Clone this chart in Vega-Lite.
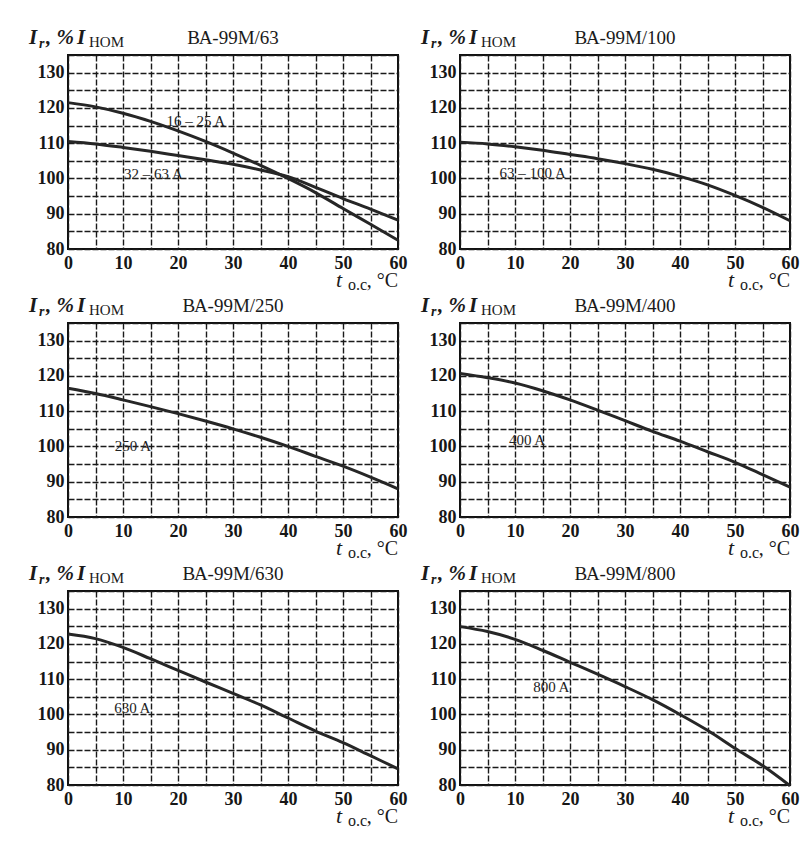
{
  "$schema": "https://vega.github.io/schema/vega-lite/v6.json",
  "background": "white",
  "padding": {"left": 28, "top": 26, "right": 10, "bottom": 10},
  "data": {"values": [
    {"p":1,"kind":"title","name":"ВА-99М/63"},
    {"p":2,"kind":"title","name":"ВА-99М/100"},
    {"p":3,"kind":"title","name":"ВА-99М/250"},
    {"p":4,"kind":"title","name":"ВА-99М/400"},
    {"p":5,"kind":"title","name":"ВА-99М/630"},
    {"p":6,"kind":"title","name":"ВА-99М/800"},
    {"p":1,"kind":"label","t":17.9,"I":116.4,"label":"16 – 25 A"},
    {"p":1,"kind":"label","t":10.2,"I":101.2,"label":"32 – 63 A"},
    {"p":2,"kind":"label","t":7.2,"I":101.5,"label":"63 – 100 A"},
    {"p":3,"kind":"label","t":8.5,"I":100.1,"label":"250 A"},
    {"p":4,"kind":"label","t":8.9,"I":101.9,"label":"400 A"},
    {"p":5,"kind":"label","t":8.4,"I":101.8,"label":"630 A"},
    {"p":6,"kind":"label","t":13.3,"I":107.9,"label":"800 A"},
    {"p":1,"kind":"curve","series":"16-25","t":0,"I":121.5},
    {"p":1,"kind":"curve","series":"16-25","t":5,"I":120.3},
    {"p":1,"kind":"curve","series":"16-25","t":10,"I":118.5},
    {"p":1,"kind":"curve","series":"16-25","t":15,"I":116.2},
    {"p":1,"kind":"curve","series":"16-25","t":20,"I":113.5},
    {"p":1,"kind":"curve","series":"16-25","t":25,"I":110.5},
    {"p":1,"kind":"curve","series":"16-25","t":30,"I":107.2},
    {"p":1,"kind":"curve","series":"16-25","t":35,"I":103.7},
    {"p":1,"kind":"curve","series":"16-25","t":40,"I":100},
    {"p":1,"kind":"curve","series":"16-25","t":45,"I":96},
    {"p":1,"kind":"curve","series":"16-25","t":50,"I":91.5},
    {"p":1,"kind":"curve","series":"16-25","t":55,"I":87},
    {"p":1,"kind":"curve","series":"16-25","t":60,"I":82.5},
    {"p":1,"kind":"curve","series":"32-63","t":0,"I":110.5},
    {"p":1,"kind":"curve","series":"32-63","t":5,"I":109.8},
    {"p":1,"kind":"curve","series":"32-63","t":10,"I":108.8},
    {"p":1,"kind":"curve","series":"32-63","t":15,"I":107.7},
    {"p":1,"kind":"curve","series":"32-63","t":20,"I":106.5},
    {"p":1,"kind":"curve","series":"32-63","t":25,"I":105.3},
    {"p":1,"kind":"curve","series":"32-63","t":30,"I":104},
    {"p":1,"kind":"curve","series":"32-63","t":35,"I":102.4},
    {"p":1,"kind":"curve","series":"32-63","t":40,"I":100.5},
    {"p":1,"kind":"curve","series":"32-63","t":45,"I":97.5},
    {"p":1,"kind":"curve","series":"32-63","t":50,"I":94.3},
    {"p":1,"kind":"curve","series":"32-63","t":55,"I":91.3},
    {"p":1,"kind":"curve","series":"32-63","t":60,"I":88.2},
    {"p":2,"kind":"curve","series":"63-100","t":0,"I":110.3},
    {"p":2,"kind":"curve","series":"63-100","t":5,"I":109.8},
    {"p":2,"kind":"curve","series":"63-100","t":10,"I":109},
    {"p":2,"kind":"curve","series":"63-100","t":15,"I":108},
    {"p":2,"kind":"curve","series":"63-100","t":20,"I":106.8},
    {"p":2,"kind":"curve","series":"63-100","t":25,"I":105.6},
    {"p":2,"kind":"curve","series":"63-100","t":30,"I":104.2},
    {"p":2,"kind":"curve","series":"63-100","t":35,"I":102.6},
    {"p":2,"kind":"curve","series":"63-100","t":40,"I":100.6},
    {"p":2,"kind":"curve","series":"63-100","t":45,"I":98.2},
    {"p":2,"kind":"curve","series":"63-100","t":50,"I":95.2},
    {"p":2,"kind":"curve","series":"63-100","t":55,"I":91.8},
    {"p":2,"kind":"curve","series":"63-100","t":60,"I":88},
    {"p":3,"kind":"curve","series":"250","t":0,"I":116.5},
    {"p":3,"kind":"curve","series":"250","t":5,"I":115},
    {"p":3,"kind":"curve","series":"250","t":10,"I":113.2},
    {"p":3,"kind":"curve","series":"250","t":15,"I":111.3},
    {"p":3,"kind":"curve","series":"250","t":20,"I":109.3},
    {"p":3,"kind":"curve","series":"250","t":25,"I":107.2},
    {"p":3,"kind":"curve","series":"250","t":30,"I":105},
    {"p":3,"kind":"curve","series":"250","t":35,"I":102.6},
    {"p":3,"kind":"curve","series":"250","t":40,"I":100},
    {"p":3,"kind":"curve","series":"250","t":45,"I":97.2},
    {"p":3,"kind":"curve","series":"250","t":50,"I":94.4},
    {"p":3,"kind":"curve","series":"250","t":55,"I":91.3},
    {"p":3,"kind":"curve","series":"250","t":60,"I":88},
    {"p":4,"kind":"curve","series":"400","t":0,"I":120.7},
    {"p":4,"kind":"curve","series":"400","t":5,"I":119.5},
    {"p":4,"kind":"curve","series":"400","t":10,"I":118},
    {"p":4,"kind":"curve","series":"400","t":15,"I":115.8},
    {"p":4,"kind":"curve","series":"400","t":20,"I":113.2},
    {"p":4,"kind":"curve","series":"400","t":25,"I":110.3},
    {"p":4,"kind":"curve","series":"400","t":30,"I":107.3},
    {"p":4,"kind":"curve","series":"400","t":35,"I":104.3},
    {"p":4,"kind":"curve","series":"400","t":40,"I":101.5},
    {"p":4,"kind":"curve","series":"400","t":45,"I":98.5},
    {"p":4,"kind":"curve","series":"400","t":50,"I":95.5},
    {"p":4,"kind":"curve","series":"400","t":55,"I":92},
    {"p":4,"kind":"curve","series":"400","t":60,"I":88.5},
    {"p":5,"kind":"curve","series":"630","t":0,"I":122.8},
    {"p":5,"kind":"curve","series":"630","t":5,"I":121.5},
    {"p":5,"kind":"curve","series":"630","t":10,"I":119},
    {"p":5,"kind":"curve","series":"630","t":15,"I":115.8},
    {"p":5,"kind":"curve","series":"630","t":20,"I":112.5},
    {"p":5,"kind":"curve","series":"630","t":25,"I":109.2},
    {"p":5,"kind":"curve","series":"630","t":30,"I":106},
    {"p":5,"kind":"curve","series":"630","t":35,"I":102.7},
    {"p":5,"kind":"curve","series":"630","t":40,"I":99},
    {"p":5,"kind":"curve","series":"630","t":45,"I":95.3},
    {"p":5,"kind":"curve","series":"630","t":50,"I":92},
    {"p":5,"kind":"curve","series":"630","t":55,"I":88.3},
    {"p":5,"kind":"curve","series":"630","t":60,"I":84.6},
    {"p":6,"kind":"curve","series":"800","t":0,"I":124.9},
    {"p":6,"kind":"curve","series":"800","t":5,"I":123.5},
    {"p":6,"kind":"curve","series":"800","t":10,"I":121.3},
    {"p":6,"kind":"curve","series":"800","t":15,"I":118.2},
    {"p":6,"kind":"curve","series":"800","t":20,"I":114.8},
    {"p":6,"kind":"curve","series":"800","t":25,"I":111.4},
    {"p":6,"kind":"curve","series":"800","t":30,"I":107.9},
    {"p":6,"kind":"curve","series":"800","t":35,"I":104.2},
    {"p":6,"kind":"curve","series":"800","t":40,"I":100},
    {"p":6,"kind":"curve","series":"800","t":45,"I":95.5},
    {"p":6,"kind":"curve","series":"800","t":50,"I":90.4},
    {"p":6,"kind":"curve","series":"800","t":55,"I":85.5},
    {"p":6,"kind":"curve","series":"800","t":60,"I":79.8}
  ]},
  "columns": 2,
  "bounds": "flush",
  "spacing": {"row": 74, "column": 62},
  "concat": [
    {"transform": [{"filter": "datum.p == 1"}], "width": 330, "height": 194,
     "resolve": {"axis": {"x": "independent", "y": "independent"}},
     "layer": [
      {"transform": [{"filter": "datum.kind == 'curve'"}], "mark": {"type": "line", "interpolate": "monotone", "strokeWidth": 3, "color": "#262626"},
       "encoding": {
         "x": {"field": "t", "type": "quantitative", "scale": {"domain": [0, 60], "nice": false, "zero": false},
               "axis": {"orient": "bottom", "title": null, "values": [0,5,10,15,20,25,30,35,40,45,50,55,60], "labelExpr": "datum.value % 10 == 0 ? datum.label : ''", "labelFlush": false, "labelOverlap": false, "labelPadding": 5}},
         "y": {"field": "I", "type": "quantitative", "scale": {"domain": [80, 135], "nice": false, "zero": false},
               "axis": {"orient": "left", "title": null, "values": [80,85,90,95,100,105,110,115,120,125,130,135], "labelExpr": "datum.value % 10 == 0 && datum.value <= 130 ? datum.label : ''", "labelOverlap": false, "labelPadding": 4}},
         "detail": {"field": "series"}}},
      {"transform": [{"filter": "datum.kind == 'label'"}], "mark": {"type": "text", "align": "left", "baseline": "middle", "fontSize": 15, "color": "#222"},
       "encoding": {"x": {"field": "t", "type": "quantitative", "axis": null}, "y": {"field": "I", "type": "quantitative", "axis": null}, "text": {"field": "label"}}},
      {"transform": [{"filter": "datum.kind == 'title'"}], "mark": {"type": "text", "align": "center", "baseline": "alphabetic", "fontSize": 19, "dy": -11, "color": "#1a1a1a"},
       "encoding": {"x": {"datum": 30, "axis": null}, "y": {"datum": 135, "axis": null}, "text": {"field": "name"}}},
      {"transform": [{"filter": "datum.kind == 'title'"}], "mark": {"type": "text", "align": "left", "baseline": "alphabetic", "fontSize": 21, "fontStyle": "italic", "fontWeight": "bold", "dx": -39, "dy": -11, "color": "#1a1a1a", "text": "I"},
       "encoding": {"x": {"datum": 0, "axis": null}, "y": {"datum": 135, "axis": null}}},
      {"transform": [{"filter": "datum.kind == 'title'"}], "mark": {"type": "text", "align": "left", "baseline": "alphabetic", "fontSize": 14, "fontStyle": "italic", "fontWeight": "bold", "dx": -29, "dy": -7, "color": "#1a1a1a", "text": "r"},
       "encoding": {"x": {"datum": 0, "axis": null}, "y": {"datum": 135, "axis": null}}},
      {"transform": [{"filter": "datum.kind == 'title'"}], "mark": {"type": "text", "align": "left", "baseline": "alphabetic", "fontSize": 21, "fontStyle": "italic", "fontWeight": "bold", "dx": -22, "dy": -11, "color": "#1a1a1a", "text": ", %"},
       "encoding": {"x": {"datum": 0, "axis": null}, "y": {"datum": 135, "axis": null}}},
      {"transform": [{"filter": "datum.kind == 'title'"}], "mark": {"type": "text", "align": "left", "baseline": "alphabetic", "fontSize": 21, "fontStyle": "italic", "fontWeight": "bold", "dx": 9, "dy": -11, "color": "#1a1a1a", "text": "I"},
       "encoding": {"x": {"datum": 0, "axis": null}, "y": {"datum": 135, "axis": null}}},
      {"transform": [{"filter": "datum.kind == 'title'"}], "mark": {"type": "text", "align": "left", "baseline": "alphabetic", "fontSize": 15, "dx": 21, "dy": -8, "color": "#1a1a1a", "text": "НОМ"},
       "encoding": {"x": {"datum": 0, "axis": null}, "y": {"datum": 135, "axis": null}}},
      {"transform": [{"filter": "datum.kind == 'title'"}], "mark": {"type": "text", "align": "right", "baseline": "alphabetic", "fontSize": 20, "dy": 38, "color": "#1a1a1a", "text": ", °C"},
       "encoding": {"x": {"datum": 60, "axis": null}, "y": {"datum": 80, "axis": null}}},
      {"transform": [{"filter": "datum.kind == 'title'"}], "mark": {"type": "text", "align": "right", "baseline": "alphabetic", "fontSize": 16, "dx": -31, "dy": 41, "color": "#1a1a1a", "text": "о.с"},
       "encoding": {"x": {"datum": 60, "axis": null}, "y": {"datum": 80, "axis": null}}},
      {"transform": [{"filter": "datum.kind == 'title'"}], "mark": {"type": "text", "align": "right", "baseline": "alphabetic", "fontSize": 22, "fontStyle": "italic", "dx": -56, "dy": 38, "color": "#1a1a1a", "text": "t"},
       "encoding": {"x": {"datum": 60, "axis": null}, "y": {"datum": 80, "axis": null}}}
    ]},
    {"transform": [{"filter": "datum.p == 2"}], "width": 330, "height": 194,
     "resolve": {"axis": {"x": "independent", "y": "independent"}},
     "layer": [
      {"transform": [{"filter": "datum.kind == 'curve'"}], "mark": {"type": "line", "interpolate": "monotone", "strokeWidth": 3, "color": "#262626"},
       "encoding": {
         "x": {"field": "t", "type": "quantitative", "scale": {"domain": [0, 60], "nice": false, "zero": false},
               "axis": {"orient": "bottom", "title": null, "values": [0,5,10,15,20,25,30,35,40,45,50,55,60], "labelExpr": "datum.value % 10 == 0 ? datum.label : ''", "labelFlush": false, "labelOverlap": false, "labelPadding": 5}},
         "y": {"field": "I", "type": "quantitative", "scale": {"domain": [80, 135], "nice": false, "zero": false},
               "axis": {"orient": "left", "title": null, "values": [80,85,90,95,100,105,110,115,120,125,130,135], "labelExpr": "datum.value % 10 == 0 && datum.value <= 130 ? datum.label : ''", "labelOverlap": false, "labelPadding": 4}},
         "detail": {"field": "series"}}},
      {"transform": [{"filter": "datum.kind == 'label'"}], "mark": {"type": "text", "align": "left", "baseline": "middle", "fontSize": 15, "color": "#222"},
       "encoding": {"x": {"field": "t", "type": "quantitative", "axis": null}, "y": {"field": "I", "type": "quantitative", "axis": null}, "text": {"field": "label"}}},
      {"transform": [{"filter": "datum.kind == 'title'"}], "mark": {"type": "text", "align": "center", "baseline": "alphabetic", "fontSize": 19, "dy": -11, "color": "#1a1a1a"},
       "encoding": {"x": {"datum": 30, "axis": null}, "y": {"datum": 135, "axis": null}, "text": {"field": "name"}}},
      {"transform": [{"filter": "datum.kind == 'title'"}], "mark": {"type": "text", "align": "left", "baseline": "alphabetic", "fontSize": 21, "fontStyle": "italic", "fontWeight": "bold", "dx": -39, "dy": -11, "color": "#1a1a1a", "text": "I"},
       "encoding": {"x": {"datum": 0, "axis": null}, "y": {"datum": 135, "axis": null}}},
      {"transform": [{"filter": "datum.kind == 'title'"}], "mark": {"type": "text", "align": "left", "baseline": "alphabetic", "fontSize": 14, "fontStyle": "italic", "fontWeight": "bold", "dx": -29, "dy": -7, "color": "#1a1a1a", "text": "r"},
       "encoding": {"x": {"datum": 0, "axis": null}, "y": {"datum": 135, "axis": null}}},
      {"transform": [{"filter": "datum.kind == 'title'"}], "mark": {"type": "text", "align": "left", "baseline": "alphabetic", "fontSize": 21, "fontStyle": "italic", "fontWeight": "bold", "dx": -22, "dy": -11, "color": "#1a1a1a", "text": ", %"},
       "encoding": {"x": {"datum": 0, "axis": null}, "y": {"datum": 135, "axis": null}}},
      {"transform": [{"filter": "datum.kind == 'title'"}], "mark": {"type": "text", "align": "left", "baseline": "alphabetic", "fontSize": 21, "fontStyle": "italic", "fontWeight": "bold", "dx": 9, "dy": -11, "color": "#1a1a1a", "text": "I"},
       "encoding": {"x": {"datum": 0, "axis": null}, "y": {"datum": 135, "axis": null}}},
      {"transform": [{"filter": "datum.kind == 'title'"}], "mark": {"type": "text", "align": "left", "baseline": "alphabetic", "fontSize": 15, "dx": 21, "dy": -8, "color": "#1a1a1a", "text": "НОМ"},
       "encoding": {"x": {"datum": 0, "axis": null}, "y": {"datum": 135, "axis": null}}},
      {"transform": [{"filter": "datum.kind == 'title'"}], "mark": {"type": "text", "align": "right", "baseline": "alphabetic", "fontSize": 20, "dy": 38, "color": "#1a1a1a", "text": ", °C"},
       "encoding": {"x": {"datum": 60, "axis": null}, "y": {"datum": 80, "axis": null}}},
      {"transform": [{"filter": "datum.kind == 'title'"}], "mark": {"type": "text", "align": "right", "baseline": "alphabetic", "fontSize": 16, "dx": -31, "dy": 41, "color": "#1a1a1a", "text": "о.с"},
       "encoding": {"x": {"datum": 60, "axis": null}, "y": {"datum": 80, "axis": null}}},
      {"transform": [{"filter": "datum.kind == 'title'"}], "mark": {"type": "text", "align": "right", "baseline": "alphabetic", "fontSize": 22, "fontStyle": "italic", "dx": -56, "dy": 38, "color": "#1a1a1a", "text": "t"},
       "encoding": {"x": {"datum": 60, "axis": null}, "y": {"datum": 80, "axis": null}}}
    ]},
    {"transform": [{"filter": "datum.p == 3"}], "width": 330, "height": 194,
     "resolve": {"axis": {"x": "independent", "y": "independent"}},
     "layer": [
      {"transform": [{"filter": "datum.kind == 'curve'"}], "mark": {"type": "line", "interpolate": "monotone", "strokeWidth": 3, "color": "#262626"},
       "encoding": {
         "x": {"field": "t", "type": "quantitative", "scale": {"domain": [0, 60], "nice": false, "zero": false},
               "axis": {"orient": "bottom", "title": null, "values": [0,5,10,15,20,25,30,35,40,45,50,55,60], "labelExpr": "datum.value % 10 == 0 ? datum.label : ''", "labelFlush": false, "labelOverlap": false, "labelPadding": 5}},
         "y": {"field": "I", "type": "quantitative", "scale": {"domain": [80, 135], "nice": false, "zero": false},
               "axis": {"orient": "left", "title": null, "values": [80,85,90,95,100,105,110,115,120,125,130,135], "labelExpr": "datum.value % 10 == 0 && datum.value <= 130 ? datum.label : ''", "labelOverlap": false, "labelPadding": 4}},
         "detail": {"field": "series"}}},
      {"transform": [{"filter": "datum.kind == 'label'"}], "mark": {"type": "text", "align": "left", "baseline": "middle", "fontSize": 15, "color": "#222"},
       "encoding": {"x": {"field": "t", "type": "quantitative", "axis": null}, "y": {"field": "I", "type": "quantitative", "axis": null}, "text": {"field": "label"}}},
      {"transform": [{"filter": "datum.kind == 'title'"}], "mark": {"type": "text", "align": "center", "baseline": "alphabetic", "fontSize": 19, "dy": -11, "color": "#1a1a1a"},
       "encoding": {"x": {"datum": 30, "axis": null}, "y": {"datum": 135, "axis": null}, "text": {"field": "name"}}},
      {"transform": [{"filter": "datum.kind == 'title'"}], "mark": {"type": "text", "align": "left", "baseline": "alphabetic", "fontSize": 21, "fontStyle": "italic", "fontWeight": "bold", "dx": -39, "dy": -11, "color": "#1a1a1a", "text": "I"},
       "encoding": {"x": {"datum": 0, "axis": null}, "y": {"datum": 135, "axis": null}}},
      {"transform": [{"filter": "datum.kind == 'title'"}], "mark": {"type": "text", "align": "left", "baseline": "alphabetic", "fontSize": 14, "fontStyle": "italic", "fontWeight": "bold", "dx": -29, "dy": -7, "color": "#1a1a1a", "text": "r"},
       "encoding": {"x": {"datum": 0, "axis": null}, "y": {"datum": 135, "axis": null}}},
      {"transform": [{"filter": "datum.kind == 'title'"}], "mark": {"type": "text", "align": "left", "baseline": "alphabetic", "fontSize": 21, "fontStyle": "italic", "fontWeight": "bold", "dx": -22, "dy": -11, "color": "#1a1a1a", "text": ", %"},
       "encoding": {"x": {"datum": 0, "axis": null}, "y": {"datum": 135, "axis": null}}},
      {"transform": [{"filter": "datum.kind == 'title'"}], "mark": {"type": "text", "align": "left", "baseline": "alphabetic", "fontSize": 21, "fontStyle": "italic", "fontWeight": "bold", "dx": 9, "dy": -11, "color": "#1a1a1a", "text": "I"},
       "encoding": {"x": {"datum": 0, "axis": null}, "y": {"datum": 135, "axis": null}}},
      {"transform": [{"filter": "datum.kind == 'title'"}], "mark": {"type": "text", "align": "left", "baseline": "alphabetic", "fontSize": 15, "dx": 21, "dy": -8, "color": "#1a1a1a", "text": "НОМ"},
       "encoding": {"x": {"datum": 0, "axis": null}, "y": {"datum": 135, "axis": null}}},
      {"transform": [{"filter": "datum.kind == 'title'"}], "mark": {"type": "text", "align": "right", "baseline": "alphabetic", "fontSize": 20, "dy": 38, "color": "#1a1a1a", "text": ", °C"},
       "encoding": {"x": {"datum": 60, "axis": null}, "y": {"datum": 80, "axis": null}}},
      {"transform": [{"filter": "datum.kind == 'title'"}], "mark": {"type": "text", "align": "right", "baseline": "alphabetic", "fontSize": 16, "dx": -31, "dy": 41, "color": "#1a1a1a", "text": "о.с"},
       "encoding": {"x": {"datum": 60, "axis": null}, "y": {"datum": 80, "axis": null}}},
      {"transform": [{"filter": "datum.kind == 'title'"}], "mark": {"type": "text", "align": "right", "baseline": "alphabetic", "fontSize": 22, "fontStyle": "italic", "dx": -56, "dy": 38, "color": "#1a1a1a", "text": "t"},
       "encoding": {"x": {"datum": 60, "axis": null}, "y": {"datum": 80, "axis": null}}}
    ]},
    {"transform": [{"filter": "datum.p == 4"}], "width": 330, "height": 194,
     "resolve": {"axis": {"x": "independent", "y": "independent"}},
     "layer": [
      {"transform": [{"filter": "datum.kind == 'curve'"}], "mark": {"type": "line", "interpolate": "monotone", "strokeWidth": 3, "color": "#262626"},
       "encoding": {
         "x": {"field": "t", "type": "quantitative", "scale": {"domain": [0, 60], "nice": false, "zero": false},
               "axis": {"orient": "bottom", "title": null, "values": [0,5,10,15,20,25,30,35,40,45,50,55,60], "labelExpr": "datum.value % 10 == 0 ? datum.label : ''", "labelFlush": false, "labelOverlap": false, "labelPadding": 5}},
         "y": {"field": "I", "type": "quantitative", "scale": {"domain": [80, 135], "nice": false, "zero": false},
               "axis": {"orient": "left", "title": null, "values": [80,85,90,95,100,105,110,115,120,125,130,135], "labelExpr": "datum.value % 10 == 0 && datum.value <= 130 ? datum.label : ''", "labelOverlap": false, "labelPadding": 4}},
         "detail": {"field": "series"}}},
      {"transform": [{"filter": "datum.kind == 'label'"}], "mark": {"type": "text", "align": "left", "baseline": "middle", "fontSize": 15, "color": "#222"},
       "encoding": {"x": {"field": "t", "type": "quantitative", "axis": null}, "y": {"field": "I", "type": "quantitative", "axis": null}, "text": {"field": "label"}}},
      {"transform": [{"filter": "datum.kind == 'title'"}], "mark": {"type": "text", "align": "center", "baseline": "alphabetic", "fontSize": 19, "dy": -11, "color": "#1a1a1a"},
       "encoding": {"x": {"datum": 30, "axis": null}, "y": {"datum": 135, "axis": null}, "text": {"field": "name"}}},
      {"transform": [{"filter": "datum.kind == 'title'"}], "mark": {"type": "text", "align": "left", "baseline": "alphabetic", "fontSize": 21, "fontStyle": "italic", "fontWeight": "bold", "dx": -39, "dy": -11, "color": "#1a1a1a", "text": "I"},
       "encoding": {"x": {"datum": 0, "axis": null}, "y": {"datum": 135, "axis": null}}},
      {"transform": [{"filter": "datum.kind == 'title'"}], "mark": {"type": "text", "align": "left", "baseline": "alphabetic", "fontSize": 14, "fontStyle": "italic", "fontWeight": "bold", "dx": -29, "dy": -7, "color": "#1a1a1a", "text": "r"},
       "encoding": {"x": {"datum": 0, "axis": null}, "y": {"datum": 135, "axis": null}}},
      {"transform": [{"filter": "datum.kind == 'title'"}], "mark": {"type": "text", "align": "left", "baseline": "alphabetic", "fontSize": 21, "fontStyle": "italic", "fontWeight": "bold", "dx": -22, "dy": -11, "color": "#1a1a1a", "text": ", %"},
       "encoding": {"x": {"datum": 0, "axis": null}, "y": {"datum": 135, "axis": null}}},
      {"transform": [{"filter": "datum.kind == 'title'"}], "mark": {"type": "text", "align": "left", "baseline": "alphabetic", "fontSize": 21, "fontStyle": "italic", "fontWeight": "bold", "dx": 9, "dy": -11, "color": "#1a1a1a", "text": "I"},
       "encoding": {"x": {"datum": 0, "axis": null}, "y": {"datum": 135, "axis": null}}},
      {"transform": [{"filter": "datum.kind == 'title'"}], "mark": {"type": "text", "align": "left", "baseline": "alphabetic", "fontSize": 15, "dx": 21, "dy": -8, "color": "#1a1a1a", "text": "НОМ"},
       "encoding": {"x": {"datum": 0, "axis": null}, "y": {"datum": 135, "axis": null}}},
      {"transform": [{"filter": "datum.kind == 'title'"}], "mark": {"type": "text", "align": "right", "baseline": "alphabetic", "fontSize": 20, "dy": 38, "color": "#1a1a1a", "text": ", °C"},
       "encoding": {"x": {"datum": 60, "axis": null}, "y": {"datum": 80, "axis": null}}},
      {"transform": [{"filter": "datum.kind == 'title'"}], "mark": {"type": "text", "align": "right", "baseline": "alphabetic", "fontSize": 16, "dx": -31, "dy": 41, "color": "#1a1a1a", "text": "о.с"},
       "encoding": {"x": {"datum": 60, "axis": null}, "y": {"datum": 80, "axis": null}}},
      {"transform": [{"filter": "datum.kind == 'title'"}], "mark": {"type": "text", "align": "right", "baseline": "alphabetic", "fontSize": 22, "fontStyle": "italic", "dx": -56, "dy": 38, "color": "#1a1a1a", "text": "t"},
       "encoding": {"x": {"datum": 60, "axis": null}, "y": {"datum": 80, "axis": null}}}
    ]},
    {"transform": [{"filter": "datum.p == 5"}], "width": 330, "height": 194,
     "resolve": {"axis": {"x": "independent", "y": "independent"}},
     "layer": [
      {"transform": [{"filter": "datum.kind == 'curve'"}], "mark": {"type": "line", "interpolate": "monotone", "strokeWidth": 3, "color": "#262626"},
       "encoding": {
         "x": {"field": "t", "type": "quantitative", "scale": {"domain": [0, 60], "nice": false, "zero": false},
               "axis": {"orient": "bottom", "title": null, "values": [0,5,10,15,20,25,30,35,40,45,50,55,60], "labelExpr": "datum.value % 10 == 0 ? datum.label : ''", "labelFlush": false, "labelOverlap": false, "labelPadding": 5}},
         "y": {"field": "I", "type": "quantitative", "scale": {"domain": [80, 135], "nice": false, "zero": false},
               "axis": {"orient": "left", "title": null, "values": [80,85,90,95,100,105,110,115,120,125,130,135], "labelExpr": "datum.value % 10 == 0 && datum.value <= 130 ? datum.label : ''", "labelOverlap": false, "labelPadding": 4}},
         "detail": {"field": "series"}}},
      {"transform": [{"filter": "datum.kind == 'label'"}], "mark": {"type": "text", "align": "left", "baseline": "middle", "fontSize": 15, "color": "#222"},
       "encoding": {"x": {"field": "t", "type": "quantitative", "axis": null}, "y": {"field": "I", "type": "quantitative", "axis": null}, "text": {"field": "label"}}},
      {"transform": [{"filter": "datum.kind == 'title'"}], "mark": {"type": "text", "align": "center", "baseline": "alphabetic", "fontSize": 19, "dy": -11, "color": "#1a1a1a"},
       "encoding": {"x": {"datum": 30, "axis": null}, "y": {"datum": 135, "axis": null}, "text": {"field": "name"}}},
      {"transform": [{"filter": "datum.kind == 'title'"}], "mark": {"type": "text", "align": "left", "baseline": "alphabetic", "fontSize": 21, "fontStyle": "italic", "fontWeight": "bold", "dx": -39, "dy": -11, "color": "#1a1a1a", "text": "I"},
       "encoding": {"x": {"datum": 0, "axis": null}, "y": {"datum": 135, "axis": null}}},
      {"transform": [{"filter": "datum.kind == 'title'"}], "mark": {"type": "text", "align": "left", "baseline": "alphabetic", "fontSize": 14, "fontStyle": "italic", "fontWeight": "bold", "dx": -29, "dy": -7, "color": "#1a1a1a", "text": "r"},
       "encoding": {"x": {"datum": 0, "axis": null}, "y": {"datum": 135, "axis": null}}},
      {"transform": [{"filter": "datum.kind == 'title'"}], "mark": {"type": "text", "align": "left", "baseline": "alphabetic", "fontSize": 21, "fontStyle": "italic", "fontWeight": "bold", "dx": -22, "dy": -11, "color": "#1a1a1a", "text": ", %"},
       "encoding": {"x": {"datum": 0, "axis": null}, "y": {"datum": 135, "axis": null}}},
      {"transform": [{"filter": "datum.kind == 'title'"}], "mark": {"type": "text", "align": "left", "baseline": "alphabetic", "fontSize": 21, "fontStyle": "italic", "fontWeight": "bold", "dx": 9, "dy": -11, "color": "#1a1a1a", "text": "I"},
       "encoding": {"x": {"datum": 0, "axis": null}, "y": {"datum": 135, "axis": null}}},
      {"transform": [{"filter": "datum.kind == 'title'"}], "mark": {"type": "text", "align": "left", "baseline": "alphabetic", "fontSize": 15, "dx": 21, "dy": -8, "color": "#1a1a1a", "text": "НОМ"},
       "encoding": {"x": {"datum": 0, "axis": null}, "y": {"datum": 135, "axis": null}}},
      {"transform": [{"filter": "datum.kind == 'title'"}], "mark": {"type": "text", "align": "right", "baseline": "alphabetic", "fontSize": 20, "dy": 38, "color": "#1a1a1a", "text": ", °C"},
       "encoding": {"x": {"datum": 60, "axis": null}, "y": {"datum": 80, "axis": null}}},
      {"transform": [{"filter": "datum.kind == 'title'"}], "mark": {"type": "text", "align": "right", "baseline": "alphabetic", "fontSize": 16, "dx": -31, "dy": 41, "color": "#1a1a1a", "text": "о.с"},
       "encoding": {"x": {"datum": 60, "axis": null}, "y": {"datum": 80, "axis": null}}},
      {"transform": [{"filter": "datum.kind == 'title'"}], "mark": {"type": "text", "align": "right", "baseline": "alphabetic", "fontSize": 22, "fontStyle": "italic", "dx": -56, "dy": 38, "color": "#1a1a1a", "text": "t"},
       "encoding": {"x": {"datum": 60, "axis": null}, "y": {"datum": 80, "axis": null}}}
    ]},
    {"transform": [{"filter": "datum.p == 6"}], "width": 330, "height": 194,
     "resolve": {"axis": {"x": "independent", "y": "independent"}},
     "layer": [
      {"transform": [{"filter": "datum.kind == 'curve'"}], "mark": {"type": "line", "interpolate": "monotone", "strokeWidth": 3, "color": "#262626"},
       "encoding": {
         "x": {"field": "t", "type": "quantitative", "scale": {"domain": [0, 60], "nice": false, "zero": false},
               "axis": {"orient": "bottom", "title": null, "values": [0,5,10,15,20,25,30,35,40,45,50,55,60], "labelExpr": "datum.value % 10 == 0 ? datum.label : ''", "labelFlush": false, "labelOverlap": false, "labelPadding": 5}},
         "y": {"field": "I", "type": "quantitative", "scale": {"domain": [80, 135], "nice": false, "zero": false},
               "axis": {"orient": "left", "title": null, "values": [80,85,90,95,100,105,110,115,120,125,130,135], "labelExpr": "datum.value % 10 == 0 && datum.value <= 130 ? datum.label : ''", "labelOverlap": false, "labelPadding": 4}},
         "detail": {"field": "series"}}},
      {"transform": [{"filter": "datum.kind == 'label'"}], "mark": {"type": "text", "align": "left", "baseline": "middle", "fontSize": 15, "color": "#222"},
       "encoding": {"x": {"field": "t", "type": "quantitative", "axis": null}, "y": {"field": "I", "type": "quantitative", "axis": null}, "text": {"field": "label"}}},
      {"transform": [{"filter": "datum.kind == 'title'"}], "mark": {"type": "text", "align": "center", "baseline": "alphabetic", "fontSize": 19, "dy": -11, "color": "#1a1a1a"},
       "encoding": {"x": {"datum": 30, "axis": null}, "y": {"datum": 135, "axis": null}, "text": {"field": "name"}}},
      {"transform": [{"filter": "datum.kind == 'title'"}], "mark": {"type": "text", "align": "left", "baseline": "alphabetic", "fontSize": 21, "fontStyle": "italic", "fontWeight": "bold", "dx": -39, "dy": -11, "color": "#1a1a1a", "text": "I"},
       "encoding": {"x": {"datum": 0, "axis": null}, "y": {"datum": 135, "axis": null}}},
      {"transform": [{"filter": "datum.kind == 'title'"}], "mark": {"type": "text", "align": "left", "baseline": "alphabetic", "fontSize": 14, "fontStyle": "italic", "fontWeight": "bold", "dx": -29, "dy": -7, "color": "#1a1a1a", "text": "r"},
       "encoding": {"x": {"datum": 0, "axis": null}, "y": {"datum": 135, "axis": null}}},
      {"transform": [{"filter": "datum.kind == 'title'"}], "mark": {"type": "text", "align": "left", "baseline": "alphabetic", "fontSize": 21, "fontStyle": "italic", "fontWeight": "bold", "dx": -22, "dy": -11, "color": "#1a1a1a", "text": ", %"},
       "encoding": {"x": {"datum": 0, "axis": null}, "y": {"datum": 135, "axis": null}}},
      {"transform": [{"filter": "datum.kind == 'title'"}], "mark": {"type": "text", "align": "left", "baseline": "alphabetic", "fontSize": 21, "fontStyle": "italic", "fontWeight": "bold", "dx": 9, "dy": -11, "color": "#1a1a1a", "text": "I"},
       "encoding": {"x": {"datum": 0, "axis": null}, "y": {"datum": 135, "axis": null}}},
      {"transform": [{"filter": "datum.kind == 'title'"}], "mark": {"type": "text", "align": "left", "baseline": "alphabetic", "fontSize": 15, "dx": 21, "dy": -8, "color": "#1a1a1a", "text": "НОМ"},
       "encoding": {"x": {"datum": 0, "axis": null}, "y": {"datum": 135, "axis": null}}},
      {"transform": [{"filter": "datum.kind == 'title'"}], "mark": {"type": "text", "align": "right", "baseline": "alphabetic", "fontSize": 20, "dy": 38, "color": "#1a1a1a", "text": ", °C"},
       "encoding": {"x": {"datum": 60, "axis": null}, "y": {"datum": 80, "axis": null}}},
      {"transform": [{"filter": "datum.kind == 'title'"}], "mark": {"type": "text", "align": "right", "baseline": "alphabetic", "fontSize": 16, "dx": -31, "dy": 41, "color": "#1a1a1a", "text": "о.с"},
       "encoding": {"x": {"datum": 60, "axis": null}, "y": {"datum": 80, "axis": null}}},
      {"transform": [{"filter": "datum.kind == 'title'"}], "mark": {"type": "text", "align": "right", "baseline": "alphabetic", "fontSize": 22, "fontStyle": "italic", "dx": -56, "dy": 38, "color": "#1a1a1a", "text": "t"},
       "encoding": {"x": {"datum": 60, "axis": null}, "y": {"datum": 80, "axis": null}}}
    ]}
  ],
  "config": {
    "font": "Liberation Serif",
    "view": {"stroke": "#111", "strokeWidth": 2},
    "text": {"font": "Liberation Serif"},
    "axis": {
      "labelFont": "Liberation Serif", "labelFontSize": 18, "labelFontWeight": "bold", "labelColor": "#161616",
      "ticks": false, "domain": false,
      "grid": true, "gridColor": "#1a1a1a", "gridDash": [6, 2], "gridWidth": 1.4, "gridOpacity": 1
    }
  }
}
